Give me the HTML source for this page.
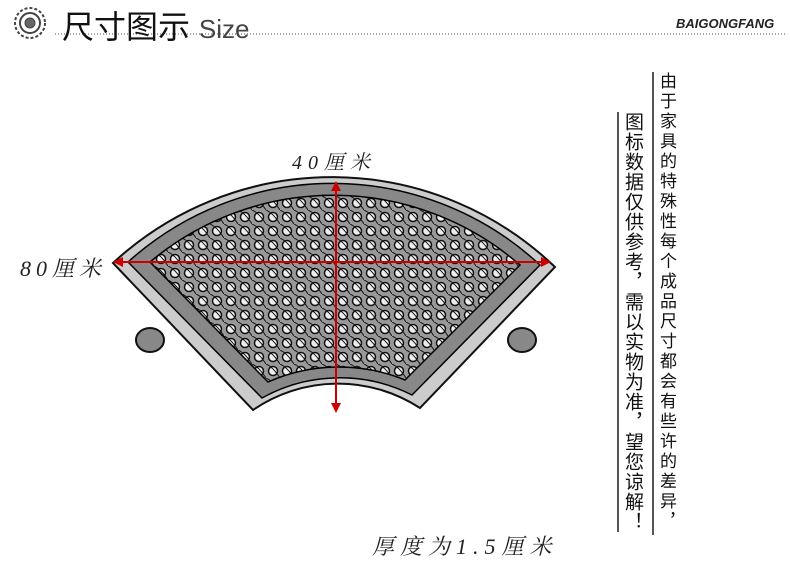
<!DOCTYPE html>
<html><head><meta charset="utf-8"><style>
body{margin:0;width:790px;height:580px;background:#fff;overflow:hidden;position:relative;font-family:"Liberation Sans","Noto Sans CJK SC",sans-serif}
.t{position:absolute;white-space:nowrap}
.col{position:absolute;writing-mode:vertical-rl;color:#111;border-left:2px solid #555;padding-left:1px;white-space:nowrap}
.s{font-family:'Liberation Serif','Noto Serif CJK SC',serif;font-style:italic;color:#222}
</style></head><body>
<svg width="790" height="580" style="position:absolute;left:0;top:0">
<g transform="translate(30,23)" stroke="#444" fill="none">
<circle r="15" stroke-width="2" stroke-dasharray="3 2"/><circle r="10" stroke-width="2"/><circle r="5" fill="#666"/>
</g>
<line x1="55" y1="34" x2="785" y2="34" stroke="#555" stroke-dasharray="1 2"/>
<defs><pattern id="p" width="14" height="14" patternUnits="userSpaceOnUse">
<rect width="14" height="14" fill="#999"/><circle cx="7" cy="7" r="4.5" fill="#eee" stroke="#111" stroke-width="1.5"/><path d="M0 0Q7 3 14 14" stroke="#111" fill="none"/></pattern></defs>
<ellipse cx="150" cy="340" rx="14" ry="12" fill="#888" stroke="#111" stroke-width="2"/>
<ellipse cx="522" cy="340" rx="14" ry="12" fill="#888" stroke="#111" stroke-width="2"/>
<path d="M113 263 A322 322 0 0 1 555 267 L420 408 A150 150 0 0 0 253 410 Z" fill="#ccc" stroke="#111" stroke-width="2"/>
<path d="M128 262 A305 305 0 0 1 540 265 L412 395 A160 160 0 0 0 262 398 Z" fill="#888" stroke="#000" stroke-width="1.5"/>
<path d="M150 262 A285 285 0 0 1 520 265 L405 380 A175 175 0 0 0 268 382 Z" fill="url(#p)" stroke="#000" stroke-width="1.5"/>
<g stroke="#c00" stroke-width="2" fill="#c00">
<line x1="118" y1="262" x2="545" y2="262"/>
<path d="M113 262 l10 -5 v10z M551 262 l-10 -5 v10z" stroke="none"/>
<line x1="336" y1="188" x2="336" y2="406"/>
<path d="M336 181 l-5 10 h10z M336 413 l-5 -10 h10z" stroke="none"/>
</g>
</svg>
<div class="t" style="left:62px;top:2px;font-size:32px;color:#111">尺寸图示 <span style="font-size:26px;color:#444">Size</span></div>
<div class="t" style="left:676px;top:16px;font-size:13px;font-weight:bold;font-style:italic;color:#222">BAIGONGFANG</div>
<div class="t s" style="left:292px;top:146px;font-size:20px;letter-spacing:6px">40厘米</div>
<div class="t s" style="left:20px;top:252px;font-size:22px;letter-spacing:5px">80厘米</div>
<div class="t s" style="left:372px;top:530px;font-size:22px;letter-spacing:6px">厚度为1.5厘米</div>
<div class="col" style="left:652px;top:72px;height:463px;line-height:22px;font-size:17px;letter-spacing:3px">由于家具的特殊性每个成品尺寸都会有些许的差异，</div>
<div class="col" style="left:617px;top:112px;height:420px;line-height:24px;font-size:19px;letter-spacing:1px">图标数据仅供参考，需以实物为准，望您谅解！</div>
</body></html>
